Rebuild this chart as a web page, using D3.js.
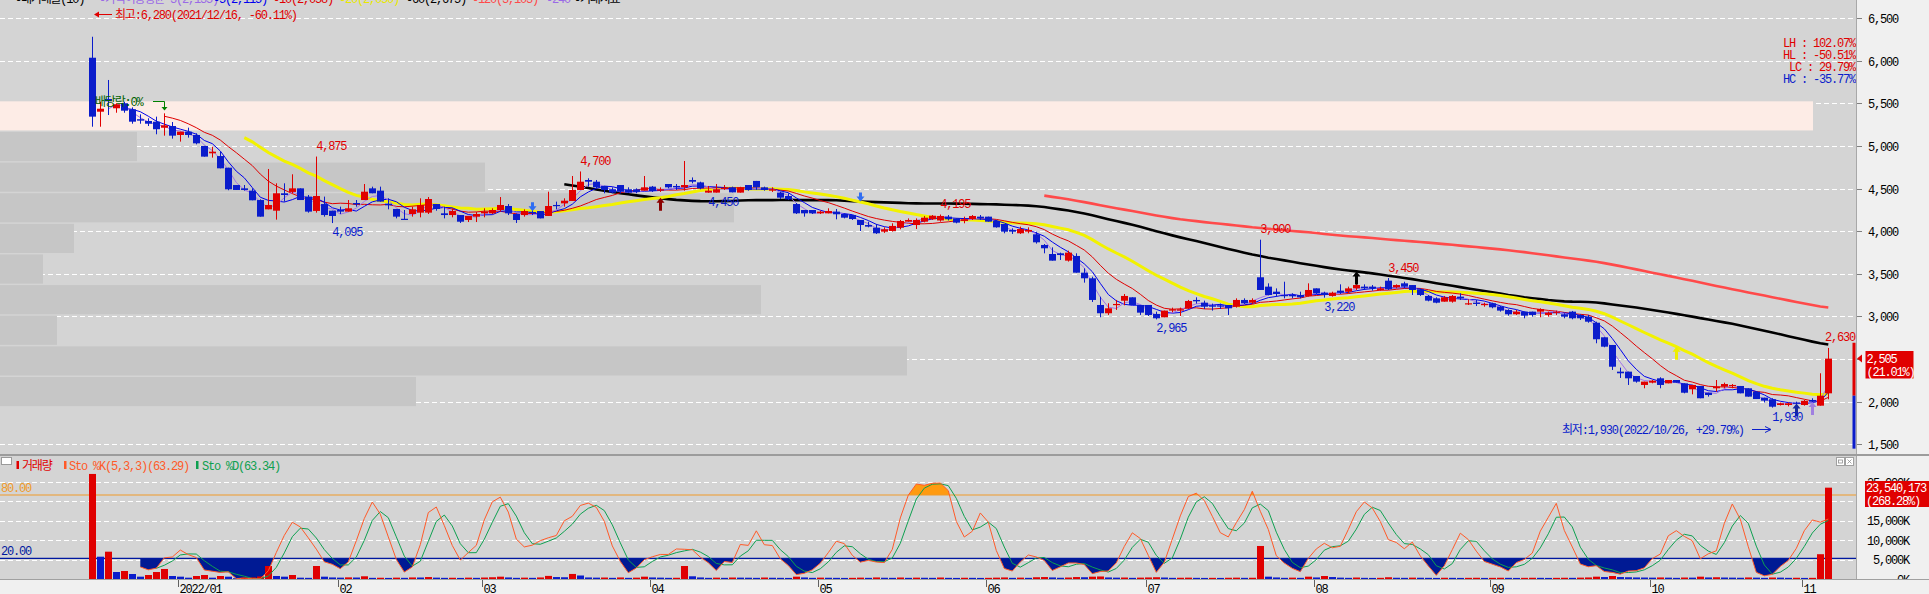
<!DOCTYPE html>
<html><head><meta charset="utf-8">
<script src="https://d3js.org/d3.v7.min.js"></script>
<style>
html,body{margin:0;padding:0;background:#f0f0f0;overflow:hidden}
svg{display:block}
text{font-family:"Liberation Mono","Noto Sans CJK KR",monospace;font-size:12px;letter-spacing:-1.2px}
</style></head><body>
<svg id="chart" width="1929" height="594"></svg>
<script>
// ---------------- DATA ----------------
const firstDate = "2021/12/16";
const monthLabels = ["2022/01","02","03","04","05","06","07","08","09","10","11"];
const monthStartIdx = [11,31,49,70,91,112,132,153,175,195,214];
const priceTicks = [1500,2000,2500,3000,3500,4000,4500,5000,5500,6000,6500];
const volTicks = [0,5000,10000,15000,20000,25000]; // in K
const volTickLabels = ["0K","5,000K","10,000K","15,000K","","25,000K"];
const stochLevels = [20,80];

const opens = [6034,5401,5550,5441,5500,5429,5313,5292,5284,5213,
5233,5128,5167,5128,4999,4913,4881,4744,4541,4502,
4475,4365,4256,4240,4444,4460,4502,4405,4237,4318,
4240,4248,4229,4330,4365,4502,4475,4322,4260,4145,
4201,4217,4217,4318,4209,4189,4189,4131,4170,4209,
4209,4248,4295,4201,4189,4225,4236,4178,4307,4326,
4354,4483,4600,4580,4530,4491,4541,4491,4491,4475,
4522,4475,4553,4530,4514,4600,4572,4452,4452,4495,
4514,4452,4541,4589,4514,4475,4452,4412,4318,4248,
4248,4209,4209,4229,4201,4189,4131,4072,4041,3994,
4002,4041,4111,4072,4111,4139,4125,4170,4150,4119,
4142,4170,4170,4119,4084,4014,3975,3994,3963,3838,
3732,3740,3654,3709,3513,3447,3134,3037,3134,3184,
3224,3134,3134,3029,2990,3068,3068,3095,3193,3161,
3130,3130,3134,3114,3193,3161,3459,3349,3290,3251,
3251,3251,3240,3329,3278,3240,3302,3290,3329,3349,
3349,3310,3419,3341,3388,3368,3318,3240,3212,3173,
3173,3232,3140,3161,3134,3154,3114,3075,3025,3056,
3056,3056,3017,3044,3025,3056,3017,2997,2926,2755,
2665,2352,2352,2301,2196,2223,2274,2215,2254,2215,
2145,2184,2105,2157,2176,2184,2184,2157,2117,2047,
2028,1961,1961,1990,1961,2020,1953,2098];
const highs = [6280,5518,5773,5500,5518,5452,5370,5324,5343,5382,
5280,5167,5214,5148,5000,4990,4932,4744,4541,4541,
4502,4373,4729,4561,4561,4667,4502,4424,4875,4405,
4240,4287,4365,4365,4553,4522,4522,4385,4260,4248,
4287,4385,4400,4318,4287,4268,4189,4178,4225,4268,
4268,4400,4318,4209,4256,4256,4236,4463,4346,4385,
4647,4700,4620,4600,4530,4514,4541,4514,4502,4647,
4530,4514,4553,4553,4823,4630,4580,4530,4553,4541,
4522,4520,4541,4589,4522,4514,4463,4444,4330,4248,
4248,4240,4268,4260,4209,4189,4131,4111,4084,4045,
4092,4131,4150,4150,4178,4189,4195,4189,4150,4170,
4189,4189,4170,4131,4084,4033,4053,4045,3994,3849,
3810,3748,3771,3740,3564,3466,3231,3154,3193,3263,
3224,3134,3134,3056,3068,3103,3103,3193,3224,3185,
3150,3150,3134,3212,3212,3212,3900,3388,3329,3407,
3271,3290,3388,3329,3290,3290,3376,3349,3388,3376,
3368,3349,3450,3376,3407,3368,3329,3251,3224,3240,
3251,3271,3200,3193,3161,3161,3122,3084,3075,3056,
3056,3095,3056,3068,3037,3064,3025,3017,2938,2755,
2665,2399,2352,2301,2235,2254,2286,2254,2254,2215,
2196,2184,2105,2254,2223,2207,2184,2157,2117,2047,
2040,1990,1990,2000,2020,2040,2333,2630];
const lows = [5225,5225,5362,5389,5389,5260,5260,5233,5136,5120,
5085,5050,5097,5018,4874,4862,4737,4480,4483,4475,
4362,4170,4256,4135,4346,4444,4365,4217,4217,4170,
4095,4201,4229,4287,4365,4444,4346,4256,4150,4139,
4170,4162,4201,4240,4150,4162,4096,4107,4107,4162,
4201,4229,4189,4096,4170,4189,4150,4178,4256,4287,
4354,4483,4522,4502,4444,4444,4444,4452,4444,4475,
4460,4460,4502,4483,4475,4561,4491,4450,4452,4483,
4455,4452,4475,4483,4475,4460,4377,4365,4201,4170,
4201,4201,4209,4139,4150,4131,4002,4045,3967,3979,
3994,4022,4111,4025,4103,4131,4111,4125,4092,4092,
4131,4131,4111,4041,3975,3967,3967,3975,3854,3740,
3654,3662,3643,3513,3396,3169,2990,3017,3076,3130,
3134,3017,3005,2965,2990,3048,3005,3087,3150,3087,
3068,3087,3017,3103,3146,3146,3310,3247,3232,3212,
3212,3212,3232,3263,3220,3232,3263,3271,3310,3310,
3302,3302,3310,3329,3329,3251,3240,3177,3154,3173,
3161,3193,3134,3122,3114,3095,3056,3009,3017,2978,
2997,2990,2997,3017,2978,2966,2958,2926,2685,2638,
2372,2278,2196,2223,2157,2215,2157,2215,2223,2098,
2086,2040,2059,2117,2157,2157,2098,2059,2031,1990,
1930,1955,1945,1961,1953,1990,1953,2028];
const closes = [5343,5436,5523,5488,5413,5284,5296,5260,5195,5241,
5120,5167,5128,5030,4874,4932,4737,4491,4483,4483,
4362,4170,4307,4444,4424,4502,4365,4229,4412,4189,
4178,4229,4268,4314,4463,4444,4346,4303,4170,4139,
4256,4307,4377,4260,4189,4236,4111,4178,4201,4229,
4248,4307,4209,4131,4236,4217,4150,4295,4295,4357,
4483,4580,4580,4514,4483,4452,4463,4452,4460,4514,
4471,4491,4514,4514,4541,4580,4502,4475,4491,4510,
4455,4514,4483,4514,4483,4491,4393,4373,4209,4209,
4209,4229,4236,4198,4158,4142,4072,4053,3975,4022,
4061,4119,4131,4131,4158,4181,4178,4139,4100,4139,
4178,4150,4111,4045,3994,3994,4025,4014,3869,3799,
3654,3720,3748,3513,3447,3193,3037,3095,3146,3240,
3134,3044,3017,2978,3068,3084,3084,3181,3177,3114,
3114,3120,3095,3193,3154,3193,3310,3251,3263,3240,
3236,3224,3310,3271,3251,3278,3278,3329,3368,3329,
3329,3329,3318,3368,3349,3310,3251,3185,3161,3224,
3240,3212,3154,3146,3146,3107,3068,3025,3056,3009,
3017,3087,3044,3056,2997,2978,2978,2938,2732,2645,
2410,2333,2274,2235,2235,2246,2196,2254,2223,2105,
2196,2040,2078,2176,2207,2196,2098,2059,2031,2012,
1941,1981,1981,1975,2010,2000,2070,2505];
// volume in thousands of shares
const volumes = [27076,5750,7040,1805,2063,1289,600,1030,1800,2580,
770,600,340,770,1030,340,770,600,200,340,
420,650,3350,770,600,1030,340,300,3350,600,
400,350,420,380,700,300,320,280,350,300,
400,380,500,350,300,320,280,350,300,380,
450,600,400,300,350,300,400,800,500,450,
1300,900,400,350,380,300,400,300,350,600,
400,350,300,320,3350,700,400,300,350,300,
380,350,330,300,380,320,300,280,600,400,
300,350,320,300,280,300,350,300,400,320,
300,380,300,350,320,300,380,300,280,320,
300,280,300,350,400,300,350,300,450,500,
400,320,380,500,450,600,650,400,350,380,
300,350,400,450,380,300,320,350,300,280,
300,280,320,350,300,320,8510,600,400,300,
350,300,600,400,770,500,350,300,380,300,
280,300,450,320,300,350,320,300,280,320,
300,280,300,320,280,300,320,300,280,300,
320,300,280,300,320,300,350,400,600,500,
770,500,450,400,380,350,400,350,300,380,
350,600,400,450,380,350,320,400,350,300,
380,350,300,320,280,300,6391.9,23540.173];

// moving-average periods and legend strings (legend text is cut off at the top)
const maPeriods = [120,60,20,10,5,3];
const topLegend = ["▪대기매물(10)","▪가격이동평균 3(2,135)","▪5(2,115)","▪10(2,058)","▪20(2,050)","▪60(2,675)","▪120(3,103)","▪240","▪거래지표"];
const stochLegendK = "63.29", stochLegendD = "63.34";
// volume-at-price (대기매물) — 10 bands, bottom to top, thousands of shares
const vpRange = [1930,5523];
const vpVolumes = [12023,26214,1647,21995,1243,2139,21214,14018,3960,52400];
// high / low value labels on the chart
const hiLabelIdx = [28,61,106,146,162,217];
const loLabelIdx = [30,77,133,154,210];
// signal markers: candle index, MA period it sits on, direction
const markerIdx = [55,71,96,158,198,213,215];
const markerMA  = [20,20,60,60,20,5,3];
const markerDir = ["down","up","down","up","up","up","up"];
const statLines = ["LH : 102.07%","HL : -50.51%","LC :  29.79%","HC : -35.77%"];
const exDivIdx = 9;

// ---------------- STYLES ----------------
const RED="#e00000", BLUE="#0a1ccb";
const maColor = {3:"#a274ea",5:"#0000ee",10:"#e00000",20:"#f2f200",60:"#000000",120:"#ff4a4a"};
const maWidth = {3:1,5:1,10:1,20:3,60:2.6,120:2.6};
const markerColor = ["#2f6df2","#8b0000","#2f6df2","#000000","#eeee00","#1428a0","#a080e0"];
const topLegendColor = ["#000","#9a6ae6","#0000ee","#e00000","#e8e800","#000","#ff4a4a","#9a6ae6","#000"];
const topLegendX = [15,99,213,273,339,406,472,546,574];

// ---------------- SCALES ----------------
const N = closes.length;
const PR = 1856;
const x = d3.scaleLinear().domain([0,N-1]).range([92.3,92.3+8*(N-1)]);
const y = d3.scaleLinear().domain([1500,6500]).range([444.3,18]);
const yV = d3.scaleLinear().domain([0,25000]).range([579,482]);
const yS = d3.scaleLinear().domain([0,100]).range([579.4,473.9]);
const fmt = d3.format(",");

const svg = d3.select("#chart");
const defs = svg.append("defs");
defs.append("clipPath").attr("id","cMain").append("rect").attr("x",0).attr("y",0).attr("width",PR).attr("height",454);
defs.append("clipPath").attr("id","cLow").append("rect").attr("x",0).attr("y",456).attr("width",PR).attr("height",123.5);
defs.append("clipPath").attr("id","cB20").append("rect").attr("x",0).attr("y",yS(20)).attr("width",PR).attr("height",600-yS(20));
defs.append("clipPath").attr("id","cA80").append("rect").attr("x",0).attr("y",456).attr("width",PR).attr("height",yS(80)-456);

svg.append("rect").attr("width",1929).attr("height",594).attr("fill","#f0f0f0");
svg.append("rect").attr("x",0).attr("y",0).attr("width",PR).attr("height",454).attr("fill","#d4d4d4");
svg.append("rect").attr("x",0).attr("y",456).attr("width",PR).attr("height",123.5).attr("fill","#d4d4d4");

// ---------------- MAIN PANEL ----------------
const main = svg.append("g").attr("clip-path","url(#cMain)");
priceTicks.forEach(t=>{
  main.append("line").attr("x1",0).attr("x2",PR).attr("y1",Math.round(y(t))+0.5).attr("y2",Math.round(y(t))+0.5)
    .attr("stroke","#ffffff").attr("stroke-width",1).attr("stroke-dasharray","5,3");
});
// volume-at-price bands
const vpStep = (vpRange[1]-vpRange[0])/vpVolumes.length;
const vpMax = d3.max(vpVolumes);
const xVP = d3.scaleLinear().domain([0,vpMax]).range([0,1813]);
vpVolumes.forEach((v,k)=>{
  const p0 = vpRange[0]+k*vpStep, p1 = p0+vpStep;
  const top = y(p1), bot = y(p0);
  main.append("rect").attr("x",0).attr("y",top).attr("width",xVP(v)).attr("height",bot-top-1.5)
    .attr("fill", v===vpMax ? "#fdece6" : "#c6c6c6");
});
// moving averages
function sma(arr,p){return arr.map((v,i)=>{if(i<p-1)return null;const s=arr.slice(i-p+1,i+1);if(s.some(z=>z==null))return null;return d3.mean(s);});}
const MA = {};
maPeriods.forEach(p=>{MA[p]=sma(closes,p);});
maPeriods.forEach(p=>{
  const ln = d3.line().defined(d=>d!=null).x((d,i)=>x(i)).y(d=>y(d));
  main.append("path").attr("d",ln(MA[p])).attr("fill","none").attr("stroke",maColor[p]).attr("stroke-width",maWidth[p]);
});
// candles
for(let i=0;i<N;i++){
  const up = closes[i]>=opens[i];
  const c = up?RED:BLUE;
  const cx = Math.round(x(i))+0.5;
  main.append("line").attr("x1",cx).attr("x2",cx).attr("y1",y(highs[i])).attr("y2",y(lows[i])).attr("stroke",c).attr("stroke-width",1);
  const t = y(Math.max(opens[i],closes[i])), b = y(Math.min(opens[i],closes[i]));
  main.append("rect").attr("x",cx-3.5).attr("y",t).attr("width",7).attr("height",Math.max(1.2,b-t)).attr("fill",c);
}
// markers on MA lines
markerIdx.forEach((i,k)=>{
  const mx = Math.round(x(i))+0.5, my = y(MA[markerMA[k]][i]);
  const L = markerDir[k]==="up"?13:9, s = markerDir[k]==="up"?1:-1;
  const path = `M${mx},${my} L${mx-4},${my+5*s} L${mx-1.5},${my+5*s} L${mx-1.5},${my+L*s} L${mx+1.5},${my+L*s} L${mx+1.5},${my+5*s} L${mx+4},${my+5*s} Z`;
  main.append("path").attr("d",path).attr("fill",markerColor[k]);
});
// high / low labels
hiLabelIdx.forEach(i=>{
  let lx = x(i); if(lx+30>PR-1) lx = PR-31;
  main.append("text").attr("x",lx).attr("y",y(highs[i])-6.5).attr("fill",RED).text(fmt(highs[i]));
});
loLabelIdx.forEach(i=>{
  main.append("text").attr("x",x(i)).attr("y",y(lows[i])+13).attr("fill",BLUE).text(fmt(lows[i]));
});
// ex-dividend marker
{
  const ex = Math.round(x(exDivIdx))+0.5;
  main.append("text").attr("x",95).attr("y",106).attr("fill","#006000").text("배당락:0%");
  main.append("path").attr("d",`M153,101.5 H${ex} V107`).attr("fill","none").attr("stroke","#008000").attr("stroke-width",1);
  main.append("path").attr("d",`M${ex-3},107 L${ex+3},107 L${ex},110.5 Z`).attr("fill","#008000");
}
// top legend (cut off at the top edge)
topLegend.forEach((s,k)=>{
  main.append("text").attr("x",topLegendX[k]).attr("y",3).attr("fill",topLegendColor[k]).text(s);
});
// highest / lowest notes
const last = closes[N-1], prev = closes[N-2];
const maxH = d3.max(highs), minL = d3.min(lows), minIdx = lows.indexOf(minL);
const pct = v => (v>=0?"+":"")+v.toFixed(2)+"%";
main.append("line").attr("x1",95).attr("x2",112).attr("y1",14.5).attr("y2",14.5).attr("stroke",RED);
main.append("path").attr("d","M94,14.5 L99,11.5 L99,17.5 Z").attr("fill",RED);
main.append("text").attr("x",115).attr("y",18.5).attr("fill",RED).text(`최고:${fmt(maxH)}(${firstDate}, ${pct((last/maxH-1)*100)})`);
main.append("text").attr("x",1562).attr("y",433.5).attr("fill",BLUE).text(`최저:${fmt(minL)}(2022/10/26, ${pct((last/minL-1)*100)})`);
main.append("line").attr("x1",1752).attr("x2",1770).attr("y1",429.5).attr("y2",429.5).attr("stroke",BLUE);
main.append("path").attr("d","M1771,429.5 L1765,426.5 M1771,429.5 L1765,432.5").attr("stroke",BLUE).attr("fill","none");
// stats box
statLines.forEach((s,k)=>{
  main.append("text").attr("x",1855).attr("y",47+k*12).attr("text-anchor","end").attr("fill",k===3?BLUE:RED).text(s);
});
// daily price-limit bar
main.append("rect").attr("x",1852.5).attr("y",y(prev*1.3)).attr("width",3).attr("height",y(prev)-y(prev*1.3)).attr("fill",RED);
main.append("rect").attr("x",1852.5).attr("y",y(prev)).attr("width",3).attr("height",y(prev*0.7)-y(prev)).attr("fill",BLUE);

// ---------------- RIGHT PRICE AXIS ----------------
svg.append("line").attr("x1",PR+0.5).attr("x2",PR+0.5).attr("y1",0).attr("y2",580).attr("stroke","#a8a8a8");
priceTicks.forEach(t=>{
  const yy = Math.round(y(t))+0.5;
  svg.append("line").attr("x1",PR+1).attr("x2",PR+6).attr("y1",yy).attr("y2",yy).attr("stroke","#808080");
  svg.append("text").attr("x",1868).attr("y",yy+4.5).attr("fill","#000").text(fmt(t));
});
// current price tag
svg.append("path").attr("d",`M${PR+1},${y(last)} L${PR+6},${y(last)-4} L${PR+6},${y(last)+4} Z`).attr("fill",RED);
svg.append("rect").attr("x",1865.5).attr("y",351).attr("width",48).attr("height",27.5).attr("fill",RED);
svg.append("text").attr("x",1866.5).attr("y",362.5).attr("fill","#fff").text(fmt(last));
svg.append("text").attr("x",1866.5).attr("y",376).attr("fill","#fff").text("("+((last/prev-1)*100).toFixed(2)+"%)");

// panel separator
svg.append("rect").attr("x",0).attr("y",454).attr("width",1929).attr("height",2).attr("fill","#9c9c9c");

// ---------------- LOWER PANEL ----------------
const low = svg.append("g").attr("clip-path","url(#cLow)");
volTicks.forEach(t=>{
  low.append("line").attr("x1",0).attr("x2",PR).attr("y1",Math.round(yV(t))+0.5).attr("y2",Math.round(yV(t))+0.5)
    .attr("stroke","#fff").attr("stroke-dasharray","5,3");
});
// stochastic slow (5,3,3)
const fastK = closes.map((c,i)=>{ if(i<4) return null;
  const hh=d3.max(highs.slice(i-4,i+1)), ll=d3.min(lows.slice(i-4,i+1));
  return hh===ll?50:(c-ll)/(hh-ll)*100; });
const slowK = sma(fastK,3), slowD = sma(slowK,3);
const areaK = (lvl)=>d3.area().defined(d=>d!=null).x((d,i)=>x(i)).y0(yS(lvl)).y1(d=>yS(d));
low.append("path").attr("d",areaK(20)(slowK)).attr("fill","#001a94").attr("clip-path","url(#cB20)");
low.append("path").attr("d",areaK(80)(slowK)).attr("fill","#ff9a10").attr("clip-path","url(#cA80)");
low.append("line").attr("x1",0).attr("x2",PR).attr("y1",yS(80)).attr("y2",yS(80)).attr("stroke","#f09a28").attr("stroke-width",1.2);
low.append("line").attr("x1",0).attr("x2",PR).attr("y1",yS(20)).attr("y2",yS(20)).attr("stroke","#0018a0").attr("stroke-width",1.2);
// volume bars
volumes.forEach((v,i)=>{
  const upv = i===0 || v>=volumes[i-1];
  const cx = Math.round(x(i))+0.5;
  low.append("rect").attr("x",cx-3.5).attr("y",yV(v)).attr("width",7).attr("height",Math.max(1,yV(0)-yV(v)+0.5)).attr("fill",upv?RED:BLUE);
});
const lnS = d3.line().defined(d=>d!=null).x((d,i)=>x(i)).y(d=>yS(d));
low.append("path").attr("d",lnS(slowD)).attr("fill","none").attr("stroke","#0ea050").attr("stroke-width",1);
low.append("path").attr("d",lnS(slowK)).attr("fill","none").attr("stroke","#ff5a28").attr("stroke-width",1);
// level labels
low.append("text").attr("x",1).attr("y",492).attr("fill","#f09a28").text(stochLevels[1].toFixed(2));
low.append("text").attr("x",1).attr("y",555).attr("fill","#0018a0").text(stochLevels[0].toFixed(2));
// legend
low.append("rect").attr("x",1.5).attr("y",457.5).attr("width",10).attr("height",7).attr("fill","#fff").attr("stroke","#9a9a9a");
low.append("rect").attr("x",16.5).attr("y",461).attr("width",2.5).attr("height",8).attr("fill",RED);
low.append("text").attr("x",22).attr("y",469.5).attr("fill",RED).text("거래량");
low.append("rect").attr("x",64).attr("y",461).attr("width",2.5).attr("height",8).attr("fill","#ff5a28");
low.append("text").attr("x",69).attr("y",469.5).attr("fill","#ff5a28").text(`Sto %K(5,3,3)(${stochLegendK})`);
low.append("rect").attr("x",196).attr("y",461).attr("width",2.5).attr("height",8).attr("fill","#0ea050");
low.append("text").attr("x",202).attr("y",469.5).attr("fill","#0ea050").text(`Sto %D(${stochLegendD})`);
// window buttons
[1836,1845].forEach(bx=>{
  low.append("rect").attr("x",bx+0.5).attr("y",457.5).attr("width",8).attr("height",8).attr("fill","#fff").attr("stroke","#a0a0a0");
});
low.append("rect").attr("x",1838.5).attr("y",460).attr("width",4).attr("height",3).attr("fill","none").attr("stroke","#909090").attr("stroke-width",0.8);
low.append("path").attr("d","M1847.5,459.5 L1851.5,463.5 M1851.5,459.5 L1847.5,463.5").attr("stroke","#909090").attr("stroke-width",0.8);

// volume axis labels
volTicks.forEach((t,k)=>{
  if(!volTickLabels[k]) return;
  svg.append("text").attr("x",1909).attr("y",yV(t)+4.5).attr("text-anchor","end").attr("fill","#000").text(volTickLabels[k]);
});
const lastV = volumes[N-1], prevV = volumes[N-2];
svg.append("rect").attr("x",1865).attr("y",481).attr("width",64).attr("height",26).attr("fill",RED);
svg.append("text").attr("x",1866).attr("y",492).attr("fill","#fff").text(fmt(Math.round(lastV*1000)));
svg.append("text").attr("x",1866).attr("y",505).attr("fill","#fff").text("("+((lastV/prevV-1)*100).toFixed(2)+"%)");

// ---------------- X AXIS ----------------
svg.append("rect").attr("x",0).attr("y",580).attr("width",1929).attr("height",14).attr("fill","#f0f0f0");
svg.append("line").attr("x1",0).attr("x2",1929).attr("y1",579.5).attr("y2",579.5).attr("stroke","#a0a0a0");
monthStartIdx.forEach((idx,k)=>{
  const tx = Math.round(x(idx)-2.5)+0.5;
  svg.append("line").attr("x1",tx).attr("x2",tx).attr("y1",580).attr("y2",587).attr("stroke","#606060");
  svg.append("text").attr("x",tx+1).attr("y",592.5).attr("fill","#000").text(monthLabels[k]);
});
</script></body></html>
